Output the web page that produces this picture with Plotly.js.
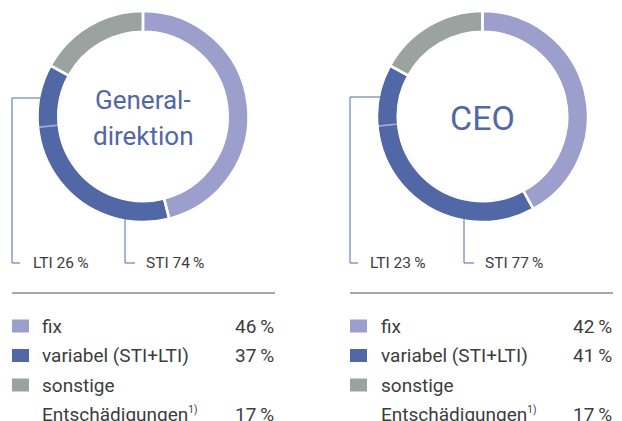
<!DOCTYPE html>
<html><head><meta charset="utf-8">
<script src="https://cdn.plot.ly/plotly-3.0.1.min.js"></script>
<style>body{margin:0;background:#fff}</style>
</head><body><div id="chart" style="width:622px;height:421px"></div>
<script>
// ---- data ----
const panels = ['Generaldirektion', 'CEO'];
const centerLines = [['General-', 'direktion'], ['CEO']];
const fixShare = [46, 42];
const variabelShare = [37, 41];
const sonstigeShare = [17, 17];
const stiShare = [74, 77];
const ltiShare = [26, 23];
const sliceNames = ['fix', 'STI', 'LTI', 'sonstige'];
const legendLabels = ['fix', 'variabel (STI+LTI)', 'sonstige',
  'Entschädigungen<sup><span style="font-size:10px">1)</span></sup>'];

// ---- style ----
const W = 622, H = 421;
const C_FIX = '#9c9fcb', C_VAR = '#5267a6', C_SON = '#9aa3a0';
const C_TXT = '#3c3c3c', C_SEP = '#a3acd3';
const FONT = 'Roboto, "Open Sans", sans-serif';
const px = x => x / W, py = y => 1 - y / H;

const geo = [
  {cx: 143, cy: 116.5, lx: 12, ltiY: 98, ringMidX: 48, stiX: 125, ltiText: 31, stiText: 144,
   ruleX0: 12, ruleX1: 275, sqX: 12, txtX: 40, valX: 276},
  {cx: 482.5, cy: 116.5, lx: 350, ltiY: 97, ringMidX: 388, stiX: 464, ltiText: 368, stiText: 483,
   ruleX0: 350, ruleX1: 613, sqX: 350, txtX: 379, valX: 614}
];
const R = 105.5, HOLE = 0.803;
const labelY = 263, rowsY = [326, 355.5, 385, 414];

const data = [], shapes = [], annotations = [];
panels.forEach((p, i) => {
  const g = geo[i];
  const domain = {x: [px(g.cx - R), px(g.cx + R)], y: [py(g.cy + R), py(g.cy - R)]};
  const sti = variabelShare[i] * stiShare[i] / 100;
  const lti = variabelShare[i] * ltiShare[i] / 100;
  // base ring with STI/LTI split
  data.push({
    type: 'pie', labels: sliceNames, values: [fixShare[i], sti, lti, sonstigeShare[i]],
    domain, hole: HOLE, sort: false, direction: 'clockwise', rotation: 0,
    textinfo: 'none', hoverinfo: 'label+value', showlegend: false,
    marker: {colors: [C_FIX, C_VAR, C_VAR, C_SON], line: {color: C_SEP, width: 1.5}}
  });
  // overlay ring for white gaps between main categories
  data.push({
    type: 'pie', labels: ['fix', 'variabel', 'sonstige'],
    values: [fixShare[i], variabelShare[i], sonstigeShare[i]],
    domain, hole: HOLE, sort: false, direction: 'clockwise', rotation: 0,
    textinfo: 'none', hoverinfo: 'skip', showlegend: false,
    marker: {colors: ['rgba(0,0,0,0)', 'rgba(0,0,0,0)', 'rgba(0,0,0,0)'], line: {color: '#ffffff', width: 2.5}}
  });

  // center title
  const lines = centerLines[i];
  if (lines.length === 2) {
    annotations.push({x: px(g.cx), y: py(100), xref: 'paper', yref: 'paper', text: lines[0], showarrow: false,
      xanchor: 'center', yanchor: 'middle', font: {family: FONT, size: 26, color: C_VAR}});
    annotations.push({x: px(g.cx), y: py(136), xref: 'paper', yref: 'paper', text: lines[1], showarrow: false,
      xanchor: 'center', yanchor: 'middle', font: {family: FONT, size: 26, color: C_VAR}});
  } else {
    annotations.push({x: px(g.cx), y: py(118), xref: 'paper', yref: 'paper', text: lines[0], showarrow: false,
      xanchor: 'center', yanchor: 'middle', font: {family: FONT, size: 34, color: C_VAR}});
  }

  // leader lines
  const ln = {color: C_VAR, width: 1};
  shapes.push({type: 'path', xref: 'paper', yref: 'paper', line: ln,
    path: `M${px(g.ringMidX)},${py(g.ltiY)} L${px(g.lx)},${py(g.ltiY)} L${px(g.lx)},${py(labelY)} L${px(g.lx + 8)},${py(labelY)}`});
  shapes.push({type: 'path', xref: 'paper', yref: 'paper', line: ln,
    path: `M${px(g.stiX)},${py(212)} L${px(g.stiX)},${py(labelY)} L${px(g.stiX + 10)},${py(labelY)}`});
  annotations.push({x: px(g.ltiText), y: py(labelY), xref: 'paper', yref: 'paper', showarrow: false,
    text: 'LTI ' + ltiShare[i] + '\u2009%', xanchor: 'left', yanchor: 'middle',
    font: {family: FONT, size: 15.5, color: C_TXT}});
  annotations.push({x: px(g.stiText), y: py(labelY), xref: 'paper', yref: 'paper', showarrow: false,
    text: 'STI ' + stiShare[i] + '\u2009%', xanchor: 'left', yanchor: 'middle',
    font: {family: FONT, size: 15.5, color: C_TXT}});

  // legend rule
  shapes.push({type: 'line', xref: 'paper', yref: 'paper', x0: px(g.ruleX0), x1: px(g.ruleX1),
    y0: py(293), y1: py(293), line: {color: '#8a8a8a', width: 1.5}});
  // legend squares
  [C_FIX, C_VAR, C_SON].forEach((c, k) => {
    shapes.push({type: 'rect', xref: 'paper', yref: 'paper', x0: px(g.sqX), x1: px(g.sqX + 17),
      y0: py(rowsY[k] + 6.5), y1: py(rowsY[k] - 6.5), fillcolor: c, line: {width: 0}});
  });
  // legend labels
  legendLabels.forEach((t, k) => {
    annotations.push({x: px(g.txtX), y: py(rowsY[k]), xref: 'paper', yref: 'paper', showarrow: false,
      text: t, xanchor: 'left', yanchor: 'middle', font: {family: FONT, size: 19, color: C_TXT}});
  });
  const vals = [fixShare[i], variabelShare[i], null, sonstigeShare[i]];
  vals.forEach((v, k) => {
    if (v === null) return;
    annotations.push({x: px(g.valX), y: py(rowsY[k]), xref: 'paper', yref: 'paper', showarrow: false,
      text: v + '\u2009%', xanchor: 'right', yanchor: 'middle', font: {family: FONT, size: 19, color: C_TXT}});
  });
});

const layout = {
  width: W, height: H, margin: {l: 0, r: 0, t: 0, b: 0},
  paper_bgcolor: '#ffffff', plot_bgcolor: '#ffffff',
  showlegend: false, shapes, annotations, font: {family: FONT}
};
Plotly.newPlot('chart', data, layout, {displayModeBar: false, staticPlot: true});
</script>
</body></html>
